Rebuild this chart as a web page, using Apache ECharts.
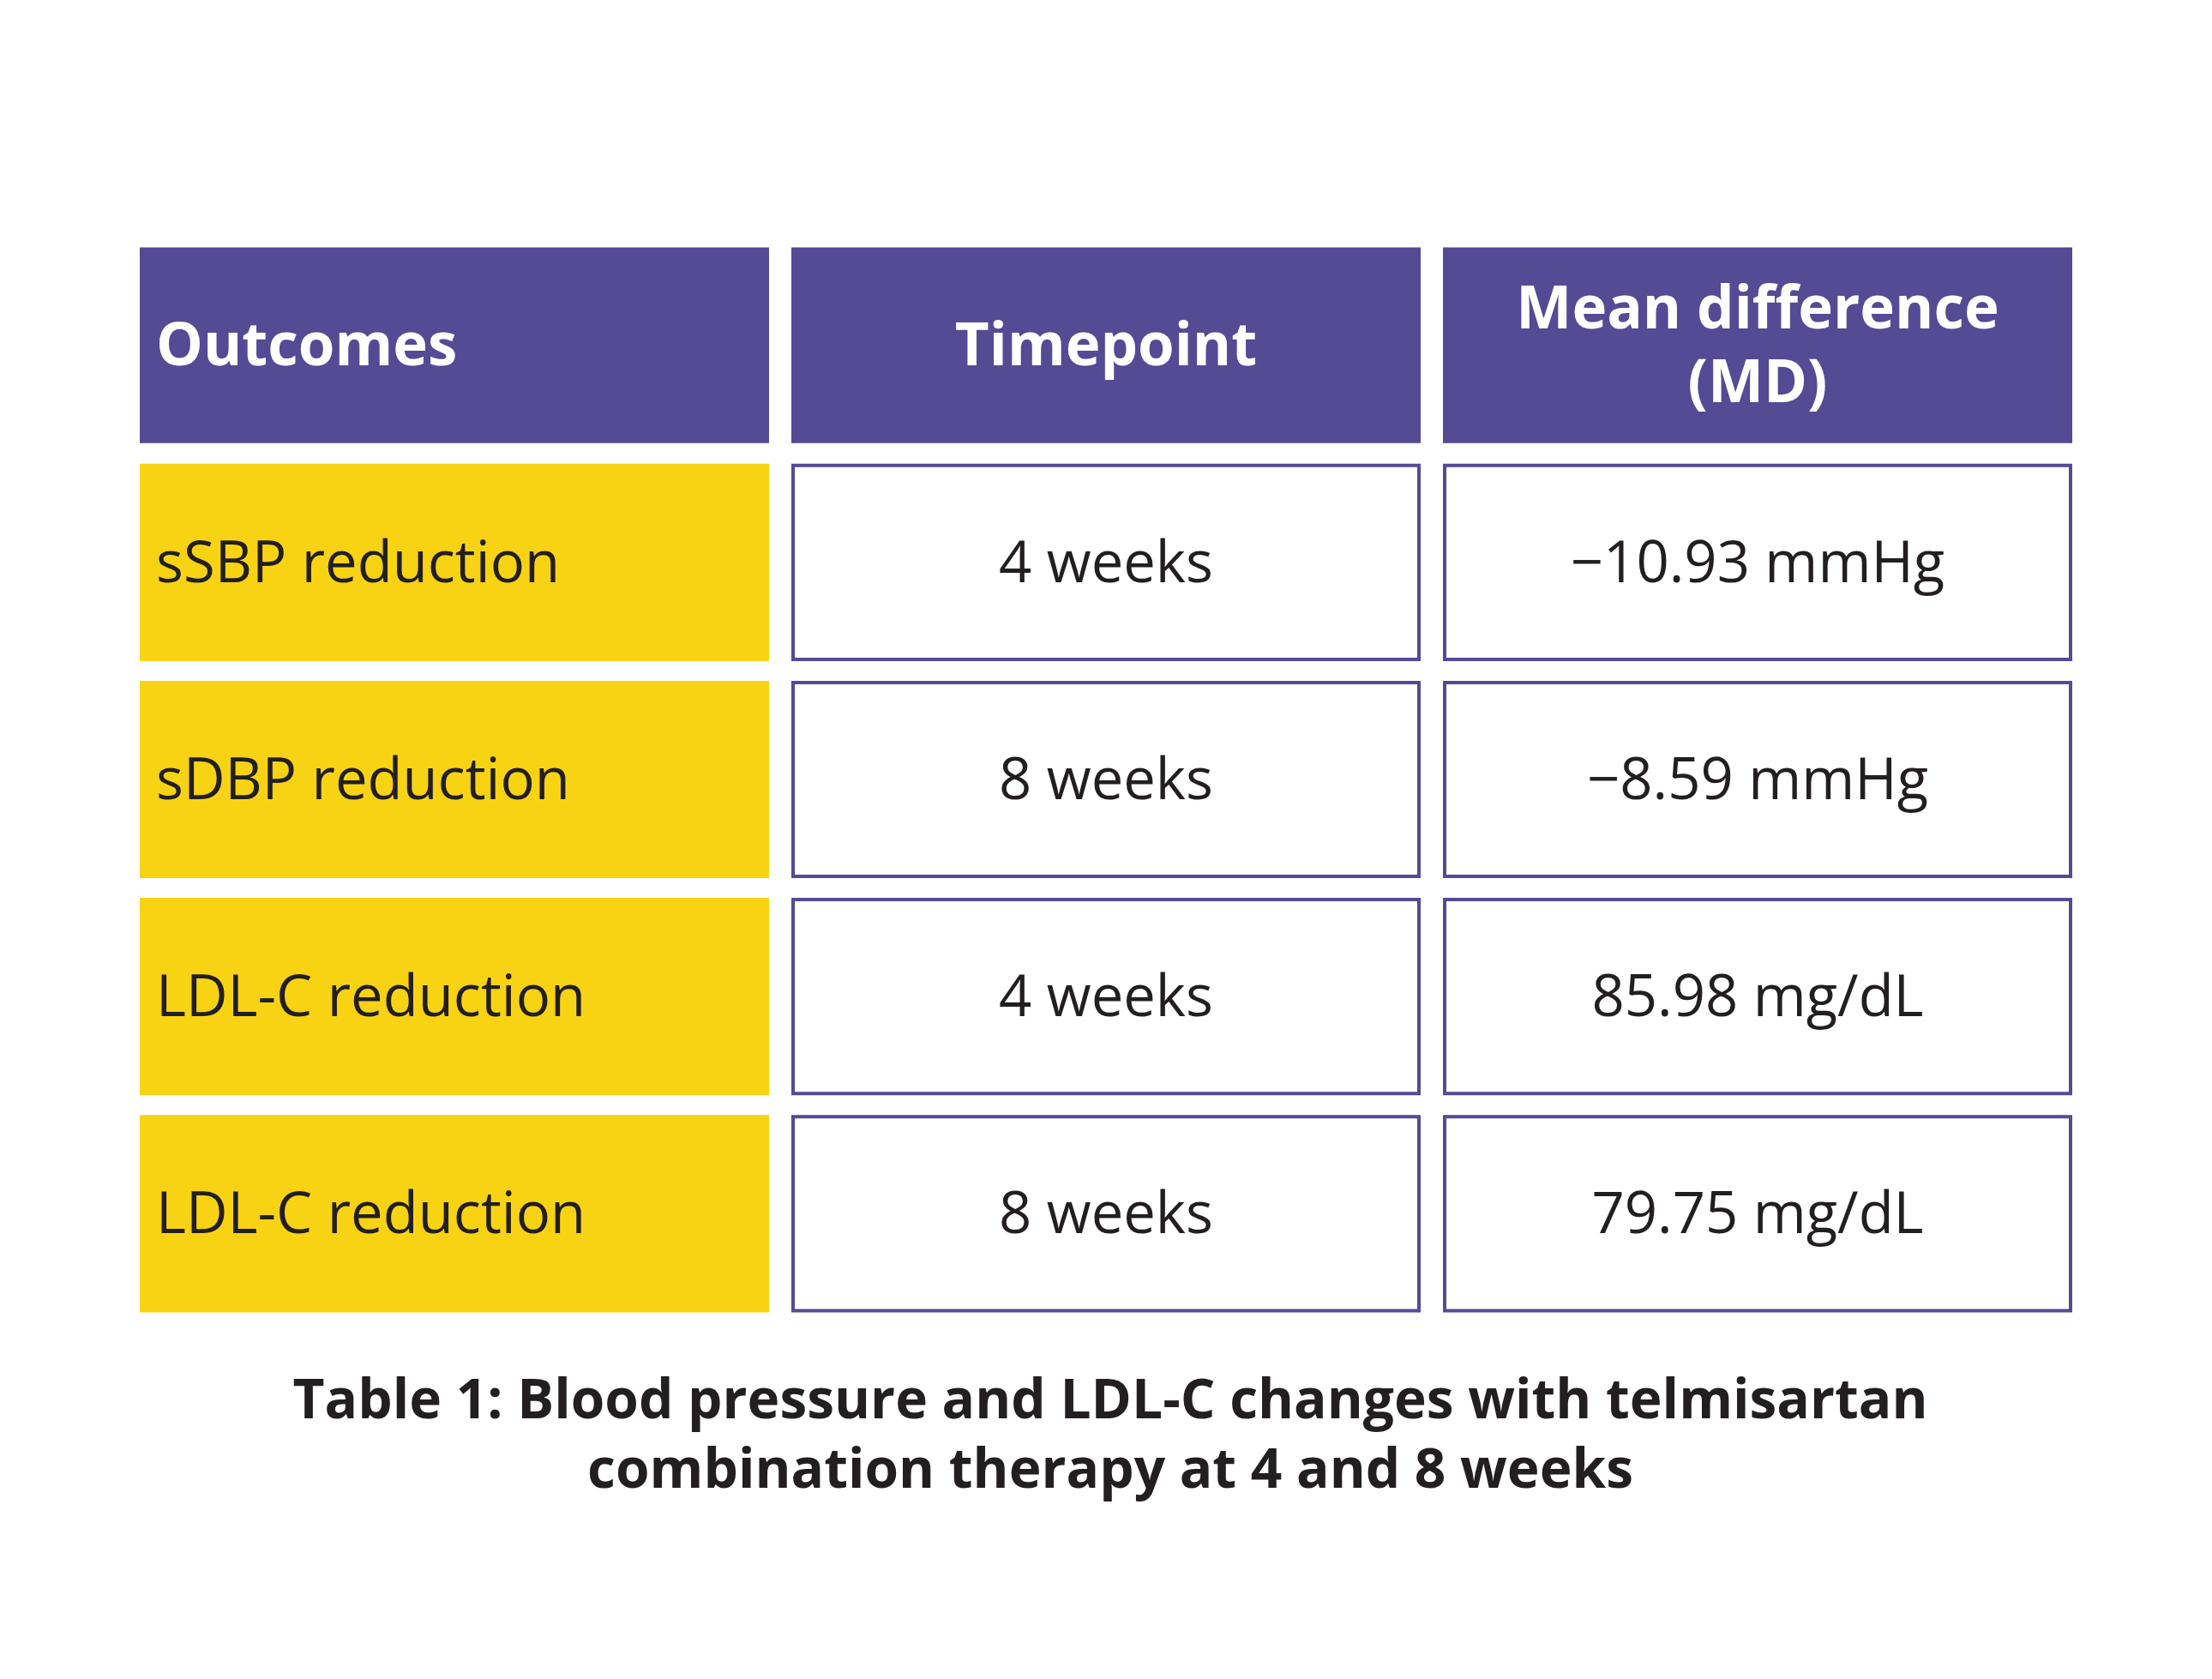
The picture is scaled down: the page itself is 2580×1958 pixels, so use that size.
<!DOCTYPE html>
<html>
<head>
<meta charset="utf-8">
<title>Table 1</title>
<script src="https://cdn.jsdelivr.net/npm/echarts@6/dist/echarts.min.js"></script>
<style>
html,body{margin:0;padding:0;background:#fff;}
#chart{width:2580px;height:1958px;}
</style>
</head>
<body>
<div id="chart"></div>
<script>
// table content
var columns = ['Outcomes', 'Timepoint', 'Mean difference\n(MD)'];
var outcomes = ['sSBP reduction', 'sDBP reduction', 'LDL-C reduction', 'LDL-C reduction'];
var timepoints = ['4 weeks', '8 weeks', '4 weeks', '8 weeks'];
var meanDiffs = ['\u221210.93 mmHg', '\u22128.59 mmHg', '85.98 mg/dL', '79.75 mg/dL'];
var caption = 'Table 1: Blood pressure and LDL-C changes with telmisartan\ncombination therapy at 4 and 8 weeks';

var rowNames = ['head', 'r1', 'r2', 'r3', 'r4'];
var PURPLE = '#554a94', YELLOW = '#f7d314', INK = '#231f20';

var cells = [];
for (var c = 0; c < columns.length; c++) {
	cells.push([c, 0, columns[c], 'head']);
}
for (var i = 0; i < outcomes.length; i++) {
	cells.push([0, i + 1, outcomes[i], 'outcome']);
	cells.push([1, i + 1, timepoints[i], 'body']);
	cells.push([2, i + 1, meanDiffs[i], 'body']);
}

function renderCell(params, api) {
	var col = api.value(0), row = api.value(1);
	var item = cells[params.dataIndex];
	var kind = item[3];
	var center = api.coord([col, row]);
	var band = api.size([1, 1]);
	var w = band[0] - 26, h = band[1] - 23;
	if (row === 0) h = band[1] - 25;
	var x0 = center[0] - w / 2, y0 = center[1] - h / 2;
	var rect, fill = INK, weight = 'normal', size = 67, align = 'center', tx = center[0];
	if (kind === 'head') {
		rect = {type: 'rect', shape: {x: x0, y: y0, width: w, height: h}, style: {fill: PURPLE}};
		fill = '#ffffff'; weight = 'bold'; size = 69;
	} else if (kind === 'outcome') {
		rect = {type: 'rect', shape: {x: x0, y: y0, width: w, height: h}, style: {fill: YELLOW}};
	} else {
		rect = {type: 'rect', shape: {x: x0 + 2, y: y0 + 2, width: w - 4, height: h - 4},
			style: {fill: '#ffffff', stroke: PURPLE, lineWidth: 4}};
	}
	if (col === 0) { align = 'left'; tx = x0 + 19; }
	return {
		type: 'group',
		children: [rect, {
			type: 'text',
			style: {
				text: item[2], x: tx, y: center[1] + 4,
				align: align, verticalAlign: 'middle',
				fill: fill, fontSize: size, fontWeight: weight,
				fontFamily: 'Open Sans', lineHeight: 86
			}
		}]
	};
}

var myChart = echarts.init(document.getElementById('chart'));
var option = {
	backgroundColor: '#ffffff',
	animation: false,
	title: {
		text: caption,
		left: 1290,
		top: 1590,
		textAlign: 'center',
		textStyle: {fontFamily: 'Open Sans', fontWeight: 'bold', fontSize: 64, color: INK, lineHeight: 81}
	},
	grid: {left: 150, right: 150, top: 276, bottom: 416},
	xAxis: {type: 'category', data: columns, show: false},
	yAxis: {type: 'category', data: rowNames, inverse: true, show: false},
	series: [{
		type: 'custom',
		renderItem: renderCell,
		data: cells.map(function (d) { return [d[0], d[1]]; })
	}]
};
myChart.setOption(option);
</script>
</body>
</html>
